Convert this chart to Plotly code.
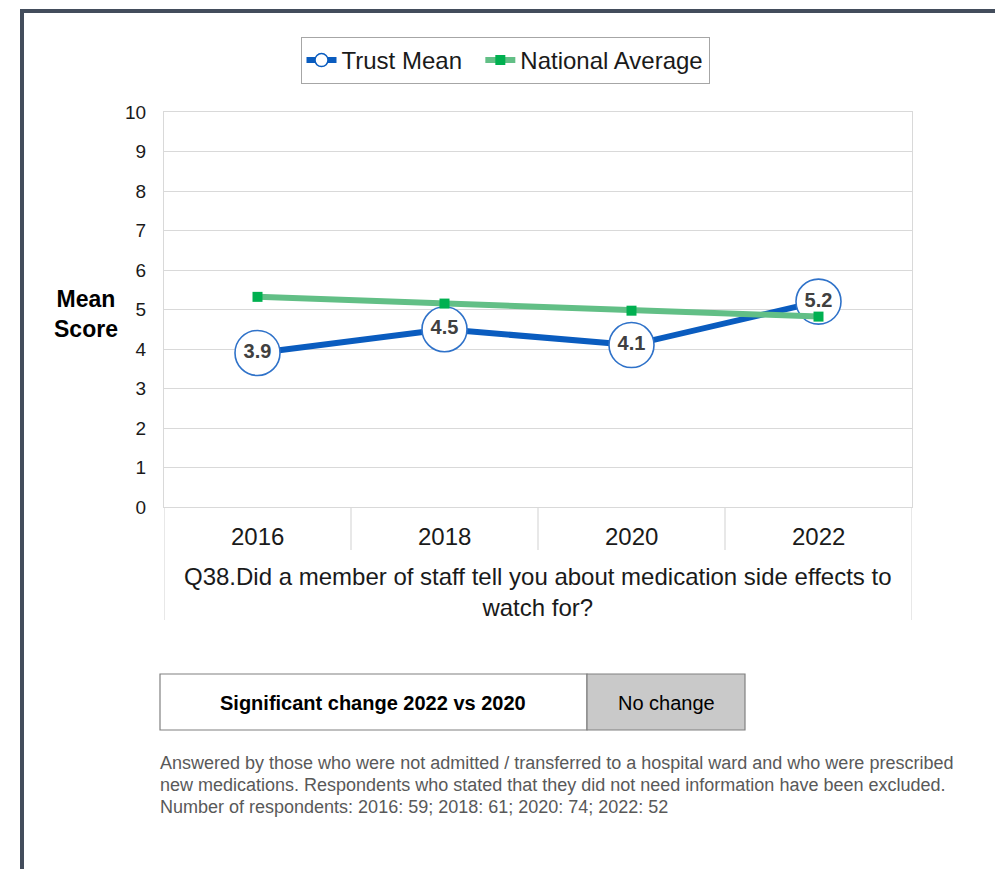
import plotly.graph_objects as go

W, H = 995, 869

years = ["2016", "2018", "2020", "2022"]
trust_mean = [3.9, 4.5, 4.1, 5.2]
national_avg = [5.32, 5.15, 4.97, 4.82]
y_ticks = list(range(0, 11))
series_names = ["Trust Mean", "National Average"]
question = "Q38.Did a member of staff tell you about medication side effects to<br>watch for?"
sig_label = "Significant change 2022 vs 2020"
sig_value = "No change"
footnote_lines = [
    "Answered by those who were not admitted / transferred to a hospital ward and who were prescribed",
    "new medications. Respondents who stated that they did not need information have been excluded.",
    "Number of respondents: 2016: 59; 2018: 61; 2020: 74; 2022: 52",
]

FONT = "Liberation Sans, Arial, sans-serif"
BLUE = "#0A5CBF"
GREEN_LINE = "#62BF86"
GREEN_MK = "#00B050"
GRID = "#D9D9D9"
TXT = "#1a1a1a"


def px(x):
    return x / W


def py(y):
    return 1 - y / H


x_idx = list(range(len(years)))

fig = go.Figure()

fig.add_trace(go.Scatter(
    x=x_idx, y=trust_mean, mode="lines+markers", name=series_names[0],
    line=dict(color=BLUE, width=6),
    marker=dict(symbol="circle", size=45, color="white", line=dict(color="#2F72C9", width=1.6)),
    showlegend=False, hoverinfo="skip",
))
fig.add_trace(go.Scatter(
    x=x_idx, y=national_avg, mode="lines+markers", name=series_names[1],
    line=dict(color=GREEN_LINE, width=6),
    marker=dict(symbol="square", size=10, color=GREEN_MK),
    showlegend=False, hoverinfo="skip",
))
fig.add_trace(go.Scatter(
    x=x_idx, y=trust_mean, mode="text",
    text=[f"{v:.1f}" for v in trust_mean], textposition="middle center",
    textfont=dict(family=FONT, size=20, color="#404040", weight="bold"),
    showlegend=False, hoverinfo="skip",
))
# legend entries
fig.add_trace(go.Scatter(
    x=[None], y=[None], mode="lines+markers", name=series_names[0] + "\u00a0\u00a0",
    line=dict(color=BLUE, width=6),
    marker=dict(symbol="circle", size=13, color="white", line=dict(color=BLUE, width=1.5)),
))
fig.add_trace(go.Scatter(
    x=[None], y=[None], mode="lines+markers", name=series_names[1],
    line=dict(color=GREEN_LINE, width=6),
    marker=dict(symbol="square", size=10, color=GREEN_MK),
))

shapes = []
# outer dark border (left and top)
shapes.append(dict(type="line", xref="paper", yref="paper", x0=px(22), x1=px(22), y0=py(869), y1=py(11),
                   line=dict(color="#434D5C", width=4)))
shapes.append(dict(type="line", xref="paper", yref="paper", x0=px(20), x1=px(995), y0=py(11), y1=py(11),
                   line=dict(color="#434D5C", width=4)))
# category table dividers
for i in range(len(years) + 1):
    xb = i - 0.5
    bottom = 620 if i in (0, len(years)) else 550
    shapes.append(dict(type="line", xref="x", yref="paper", x0=xb, x1=xb, y0=py(507), y1=py(bottom),
                       line=dict(color=GRID, width=1.2)))
# significance table
shapes.append(dict(type="rect", xref="paper", yref="paper", x0=px(160), x1=px(587), y0=py(730), y1=py(674),
                   fillcolor="white", line=dict(color="#808080", width=1.2)))
shapes.append(dict(type="rect", xref="paper", yref="paper", x0=px(587), x1=px(745), y0=py(730), y1=py(674),
                   fillcolor="#C9C9C9", line=dict(color="#808080", width=1.2)))

annotations = []
for i, yr in enumerate(years):
    annotations.append(dict(x=i, xref="x", y=py(536), yref="paper", text=yr, showarrow=False,
                            xanchor="center", yanchor="middle",
                            font=dict(family=FONT, size=24, color=TXT)))
annotations.append(dict(x=1.5, xref="x", y=py(592), yref="paper", text=question, showarrow=False,
                        xanchor="center", yanchor="middle",
                        font=dict(family=FONT, size=24, color=TXT)))
annotations.append(dict(x=px(86), xref="paper", y=py(314), yref="paper", text="<b>Mean<br>Score</b>",
                        showarrow=False, xanchor="center", yanchor="middle",
                        font=dict(family=FONT, size=23, color="black")))
annotations.append(dict(x=px(373), xref="paper", y=py(703), yref="paper", text=f"<b>{sig_label}</b>",
                        showarrow=False, xanchor="center", yanchor="middle",
                        font=dict(family=FONT, size=20, color="black")))
annotations.append(dict(x=px(666), xref="paper", y=py(703), yref="paper", text=sig_value,
                        showarrow=False, xanchor="center", yanchor="middle",
                        font=dict(family=FONT, size=20, color="black")))
for k, line in enumerate(footnote_lines):
    annotations.append(dict(x=px(158), xref="paper", xanchor="left", y=py(763 + 22 * k), yref="paper",
                            yanchor="middle", text=line, showarrow=False,
                            font=dict(family=FONT, size=18, color="#595959")))

fig.update_layout(
    width=W, height=H, autosize=False,
    margin=dict(l=0, r=0, t=0, b=0, autoexpand=False),
    paper_bgcolor="white", plot_bgcolor="white",
    font=dict(family=FONT),
    shapes=shapes, annotations=annotations,
    showlegend=True,
    legend=dict(orientation="h", x=px(505), xanchor="center", y=py(37), yanchor="top",
                bordercolor="#A6A6A6", borderwidth=1, bgcolor="white",
                font=dict(family=FONT, size=24, color=TXT),
                itemwidth=30, tracegroupgap=0),
    xaxis=dict(domain=[px(164), px(912)], range=[-0.5, len(years) - 0.5],
               showticklabels=False, ticks="", showgrid=False, zeroline=False,
               showline=True, mirror=True, linecolor=GRID, linewidth=1.2, fixedrange=True),
    yaxis=dict(domain=[py(507), py(112)], range=[0, 10], tickvals=y_ticks,
               tickfont=dict(family=FONT, size=19, color=TXT), ticks="", ticklabelstandoff=13,
               showgrid=True, gridcolor=GRID, gridwidth=1.2, zeroline=False,
               showline=True, mirror=True, linecolor=GRID, linewidth=1.2, fixedrange=True),
)

fig.write_html(
    "out.html",
    config={"responsive": False, "displayModeBar": False},
    post_script="document.body.style.margin='0';document.body.style.overflow='hidden';",
)
